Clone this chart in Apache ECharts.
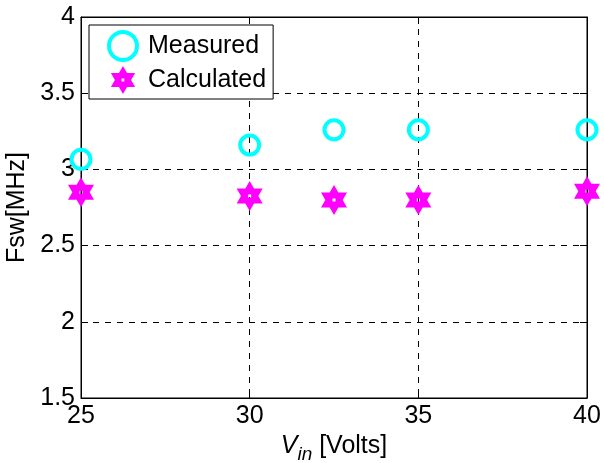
<!DOCTYPE html>
<html>
<head>
<meta charset="utf-8">
<script src="https://cdn.jsdelivr.net/npm/echarts@6/dist/echarts.min.js"></script>
<style>
html,body{margin:0;padding:0;background:#fff;}
#c{width:604px;height:463px;}
</style>
</head>
<body>
<div id="c"></div>
<script>
var vin = [25, 30, 32.5, 35, 40];
var measured = [3.066, 3.16, 3.26, 3.26, 3.26];
var calculated = [2.85, 2.825, 2.80, 2.80, 2.857];
var xTicks = [25, 30, 35, 40];
var yTicks = [1.5, 2, 2.5, 3, 3.5, 4];

var FONT = 'Liberation Sans, Arial, sans-serif';
var hexagram = 'path://M0,-10L2.887,-5L8.66,-5L5.774,0L8.66,5L2.887,5L0,10L-2.887,5L-8.66,5L-5.774,0L-8.66,-5L-2.887,-5Z' +
  'M-1,-1L-1,1L1,1L1,-1Z';

function pairs(xs, ys) { return xs.map(function (x, i) { return [x, ys[i]]; }); }

var chart = echarts.init(document.getElementById('c'), null, {renderer: 'canvas'});
var grid = {left: 81, right: 17, top: 17, bottom: 65, show: true, borderColor: '#000', borderWidth: 1, backgroundColor: '#fff', outerBoundsMode: 'none', containLabel: false};
var dashed = {show: true, lineStyle: {color: '#000', type: [6, 6], width: 1}};
chart.setOption({
  backgroundColor: '#fff',
  animation: false,
  grid: grid,
  legend: {
    data: [
      {name: 'Measured', itemStyle: {color: 'rgba(255,255,255,0)', borderColor: '#00ffff', borderWidth: 4}},
      {name: 'Calculated'}
    ],
    orient: 'vertical',
    left: 89, top: 25,
    padding: [5, 7, 5, 18],
    itemWidth: 40, itemHeight: 28, itemGap: 4,
    borderColor: '#000', borderWidth: 1, backgroundColor: '#fff',
    textStyle: {fontFamily: FONT, fontSize: 25, color: '#000'}
  },
  xAxis: [{
    type: 'value', min: xTicks[0], max: xTicks[xTicks.length - 1], interval: 5,
    axisLine: {show: true, lineStyle: {color: '#000'}},
    axisTick: {show: true, inside: true, length: 7, lineStyle: {color: '#000'}},
    axisLabel: {color: '#000', fontFamily: FONT, fontSize: 25, margin: 6},
    splitLine: dashed,
    name: '{v|V}{s|in}{t| [Volts]}',
    nameLocation: 'middle', nameGap: 30,
    nameTextStyle: {
      rich: {
        v: {fontFamily: FONT, fontSize: 25, fontStyle: 'italic', color: '#000'},
        s: {fontFamily: FONT, fontSize: 19, fontStyle: 'italic', color: '#000', padding: [16, 0, 0, 0]},
        t: {fontFamily: FONT, fontSize: 25, color: '#000'}
      }
    }
  }, {
    type: 'value', position: 'top', min: xTicks[0], max: xTicks[xTicks.length - 1], interval: 5,
    axisLine: {show: true, lineStyle: {color: '#000'}},
    axisTick: {show: true, inside: true, length: 7, lineStyle: {color: '#000'}},
    axisLabel: {show: false}, splitLine: {show: false}
  }],
  yAxis: [{
    type: 'value', min: yTicks[0], max: yTicks[yTicks.length - 1], interval: 0.5,
    axisLine: {show: true, lineStyle: {color: '#000'}},
    axisTick: {show: true, inside: true, length: 7, lineStyle: {color: '#000'}},
    axisLabel: {color: '#000', fontFamily: FONT, fontSize: 25, margin: 6},
    splitLine: dashed,
    name: 'Fsw[MHz]', nameLocation: 'middle', nameGap: 45,
    nameTextStyle: {fontFamily: FONT, fontSize: 25, color: '#000'}
  }, {
    type: 'value', position: 'right', min: yTicks[0], max: yTicks[yTicks.length - 1], interval: 0.5,
    axisLine: {show: true, lineStyle: {color: '#000'}},
    axisTick: {show: true, inside: true, length: 7, lineStyle: {color: '#000'}},
    axisLabel: {show: false}, splitLine: {show: false}
  }],
  series: [{
    name: 'Measured', type: 'scatter', xAxisIndex: 0, yAxisIndex: 0,
    data: pairs(vin, measured),
    symbol: 'circle', symbolSize: 19,
    itemStyle: {color: 'rgba(255,255,255,0)', borderColor: '#00ffff', borderWidth: 4, opacity: 1},
    clip: false, z: 5
  }, {
    name: 'Calculated', type: 'scatter', xAxisIndex: 0, yAxisIndex: 0,
    data: pairs(vin, calculated),
    symbol: hexagram, symbolSize: [26, 30],
    itemStyle: {color: '#ff00ff', opacity: 1},
    clip: false, z: 5
  }]
});
</script>
</body>
</html>
